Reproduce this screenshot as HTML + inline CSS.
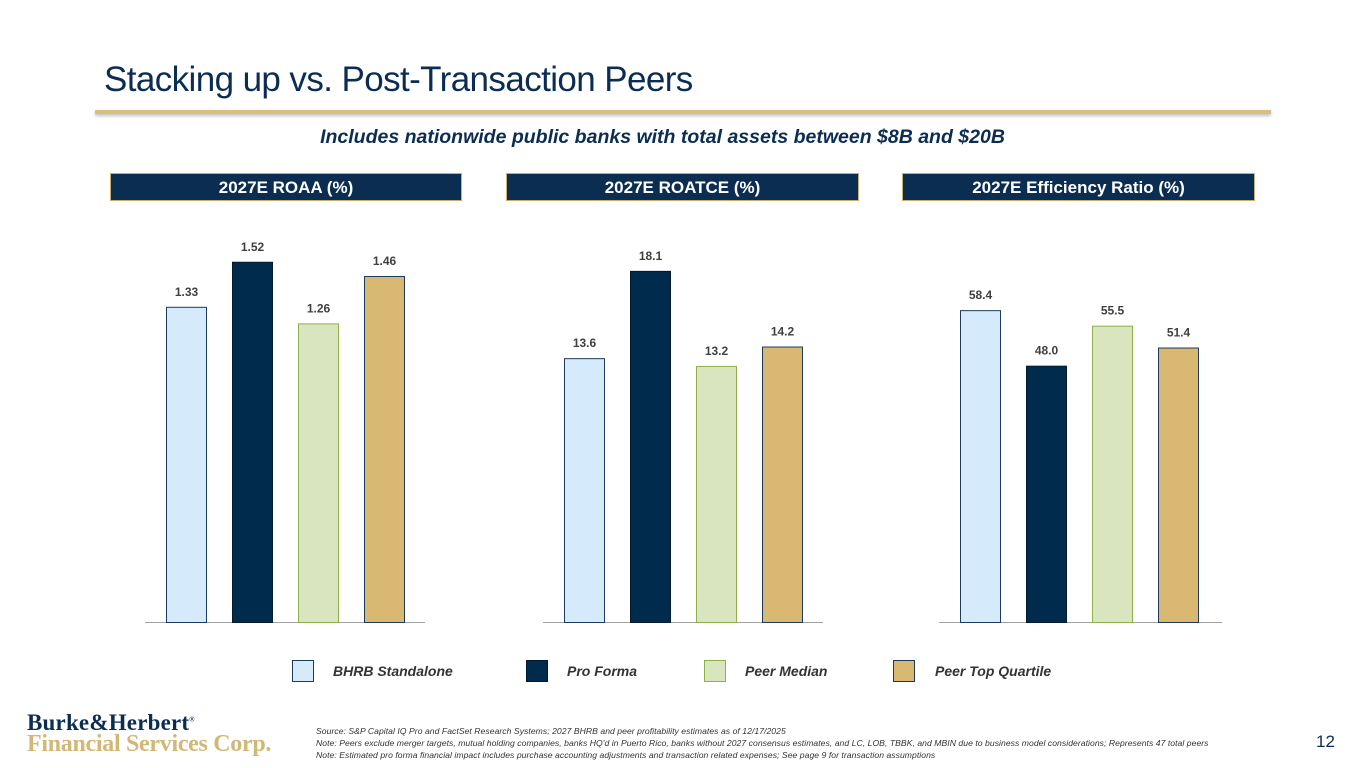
<!DOCTYPE html>
<html><head><meta charset="utf-8">
<style>
body{margin:0;width:1365px;height:768px;background:#fff;position:relative;overflow:hidden;font-family:"Liberation Sans",sans-serif}
.abs{position:absolute}
.hdr{position:absolute;top:173px;height:28px;background:#0c2d52;border:1px solid #c9ad6a;color:#fff;font-weight:bold;font-size:17px;text-align:center;line-height:27px;box-sizing:border-box}
.lg{position:absolute;top:660px;width:22px;height:22px;box-sizing:border-box}
.lt{position:absolute;top:663px;font-size:14px;font-weight:bold;font-style:italic;color:#333}
.note{position:absolute;left:316px;font-size:8.6px;font-style:italic;color:#333;white-space:nowrap;letter-spacing:0.05px}
</style></head><body>
<div class="abs" style="left:104px;top:60px;font-size:35px;color:#0c2d52;letter-spacing:-0.6px;white-space:nowrap">Stacking up vs. Post-Transaction Peers</div>
<div class="abs" style="left:95px;top:110px;width:1176px;height:4px;background:#d9bf7c;box-shadow:0 2px 3px rgba(0,0,0,0.25)"></div>
<div class="abs" style="left:0;width:1325px;top:126px;text-align:center;font-size:19.5px;font-weight:bold;font-style:italic;color:#0c2d52">Includes nationwide public banks with total assets between $8B and $20B</div>
<div class="hdr" style="left:110px;width:352px">2027E ROAA (%)</div>
<div class="hdr" style="left:506px;width:353px">2027E ROATCE (%)</div>
<div class="hdr" style="left:902px;width:353px">2027E Efficiency Ratio (%)</div>
<svg id="chart" class="abs" style="left:0;top:0" width="1365" height="768"></svg>
<div class="lg" style="left:292px;background:#d5ebfb;border:1px solid #1d3a5c"></div>
<div class="lt" style="left:333px">BHRB Standalone</div>
<div class="lg" style="left:526px;background:#002b4c;border:1px solid #001a30"></div>
<div class="lt" style="left:567px">Pro Forma</div>
<div class="lg" style="left:704px;background:#d9e5bf;border:1px solid #8fb04a"></div>
<div class="lt" style="left:745px">Peer Median</div>
<div class="lg" style="left:893px;background:#d9b871;border:1px solid #1d3a5c"></div>
<div class="lt" style="left:935px">Peer Top Quartile</div>
<div class="abs" style="left:27px;top:710px;font-family:'Liberation Serif',serif;font-weight:bold;font-size:23px;color:#0c2d52;letter-spacing:0.2px">Burke&amp;Herbert<sup style="font-size:7px">®</sup></div>
<div class="abs" style="left:27px;top:731px;font-family:'Liberation Serif',serif;font-weight:bold;font-size:24px;color:#d2b877;letter-spacing:-0.3px">Financial Services Corp.</div>
<div class="note" style="top:726px">Source: S&amp;P Capital IQ Pro and FactSet Research Systems; 2027 BHRB and peer profitability estimates as of 12/17/2025</div>
<div class="note" style="top:738px">Note: Peers exclude merger targets, mutual holding companies, banks HQ'd in Puerto Rico, banks without 2027 consensus estimates, and LC, LOB, TBBK, and MBIN due to business model considerations; Represents 47 total peers</div>
<div class="note" style="top:750px">Note: Estimated pro forma financial impact includes purchase accounting adjustments and transaction related expenses; See page 9 for transaction assumptions</div>
<div class="abs" style="left:1316px;top:732px;font-size:17px;color:#0c2d52">12</div>
<script>
const series = ["BHRB Standalone","Pro Forma","Peer Median","Peer Top Quartile"];
const roaaValues = [1.33,1.52,1.26,1.46];
const roatceValues = [13.6,18.1,13.2,14.2];
const efficiencyValues = [58.4,48.0,55.5,51.4];
const labelsRoaa = ["1.33","1.52","1.26","1.46"];
const labelsRoatce = ["13.6","18.1","13.2","14.2"];
const labelsEff = ["58.4","48.0","55.5","51.4"];
const fills=["#d5ebfb","#002b4c","#d9e5bf","#d9b871"];
const strokes=["#1d3a5c","#001a30","#8fb04a","#1d3a5c"];
const svg=document.getElementById('chart');
const NS="http://www.w3.org/2000/svg";
const base=622;
function panel(name,vals,labels,x0,axisLeft,axisRight,pxPerUnit){
  const yScale=v=>base-v*pxPerUnit;
  const xScale=i=>x0+i*66;
  const ax=document.createElementNS(NS,'line');
  ax.setAttribute('x1',axisLeft);ax.setAttribute('x2',axisRight);ax.setAttribute('y1',base+0.5);ax.setAttribute('y2',base+0.5);
  ax.setAttribute('stroke','#a0a0a0');ax.setAttribute('stroke-width','1');
  
  
  svg.appendChild(ax);
  vals.forEach((v,i)=>{
    const r=document.createElementNS(NS,'rect');
    r.setAttribute('x',xScale(i)+0.5);r.setAttribute('y',yScale(v)+0.5);
    r.setAttribute('width',40);r.setAttribute('height',base-yScale(v));
    r.setAttribute('fill',fills[i]);r.setAttribute('stroke',strokes[i]);r.setAttribute('stroke-width','1');
    
    
    svg.appendChild(r);
    const t=document.createElementNS(NS,'text');
    t.setAttribute('x',xScale(i)+20.5);t.setAttribute('y',yScale(v)-11);
    t.setAttribute('text-anchor','middle');t.setAttribute('font-size','12');t.setAttribute('font-weight','bold');
    t.setAttribute('fill','#404040');t.setAttribute('font-family','Liberation Sans, sans-serif');
    t.textContent=labels[i];
    
    
    svg.appendChild(t);
  });
}
panel('roaa',roaaValues,labelsRoaa,166,145,425,237);
panel('roatce',roatceValues,labelsRoatce,564,543,823,19.4);
panel('efficiency',efficiencyValues,labelsEff,960,939,1222,5.34);
</script>
</body></html>
